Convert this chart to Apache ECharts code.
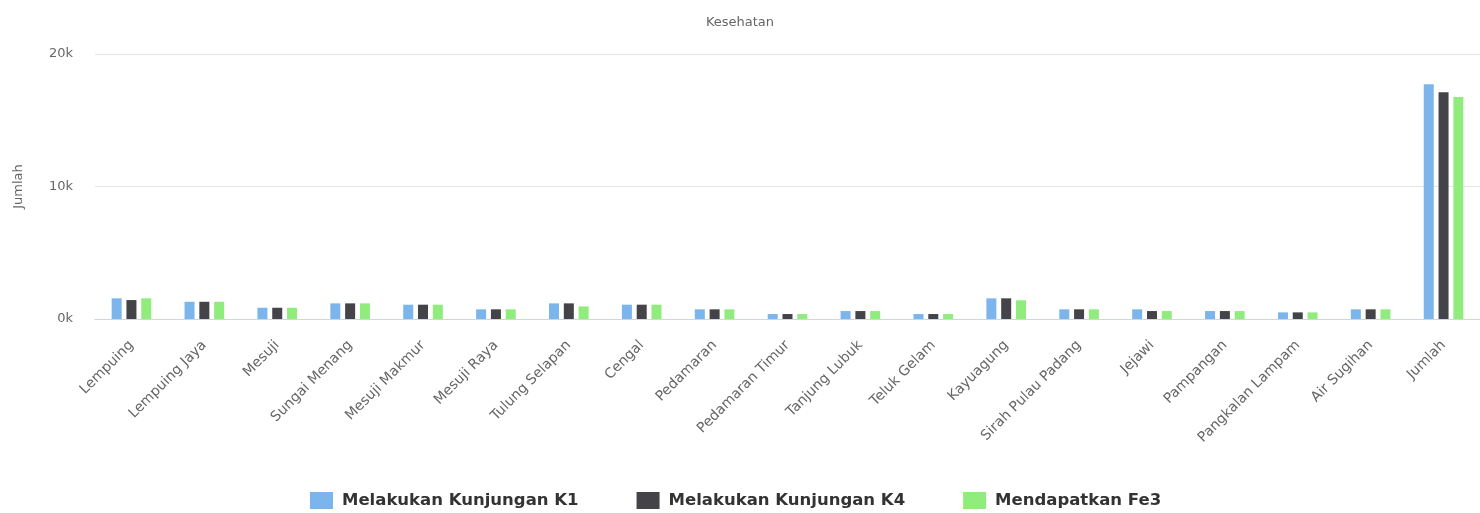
<!DOCTYPE html>
<html style="height: 100%">
<head>
    <meta charset="utf-8">
</head>
<body style="height: 100%; margin: 0">
    <div id="container" style="width: 1480px; height: 513px"></div>

    <script type="text/javascript" src="https://cdn.jsdelivr.net/npm/echarts@6/dist/echarts.min.js"></script>
    <script type="text/javascript">
        var kecamatan = ['Lempuing', 'Lempuing Jaya', 'Mesuji', 'Sungai Menang', 'Mesuji Makmur', 'Mesuji Raya',
            'Tulung Selapan', 'Cengal', 'Pedamaran', 'Pedamaran Timur', 'Tanjung Lubuk', 'Teluk Gelam',
            'Kayuagung', 'Sirah Pulau Padang', 'Jejawi', 'Pampangan', 'Pangkalan Lampam', 'Air Sugihan', 'Jumlah'];
        var kunjunganK1 = [1560, 1300, 850, 1180, 1080, 730, 1180, 1080, 730, 375, 600, 375, 1560, 730, 730, 600, 500, 730, 17710];
        var kunjunganK4 = [1430, 1300, 850, 1180, 1080, 730, 1180, 1080, 730, 375, 600, 375, 1560, 730, 600, 600, 500, 730, 17110];
        var fe3 = [1560, 1300, 850, 1180, 1080, 730, 950, 1080, 730, 375, 600, 375, 1410, 730, 600, 600, 500, 730, 16750];

        var dom = document.getElementById("container");
        var myChart = echarts.init(dom);
        var font = 'DejaVu Sans';

        function bar(name, data, color) {
            return {
                name: name,
                type: 'bar',
                data: data,
                barWidth: 10,
                barGap: '48%',
                itemStyle: { color: color }
            };
        }

        var option = {
            animation: false,
            title: {
                text: 'Kesehatan',
                left: 'center',
                top: 11,
                textStyle: { color: '#666', fontSize: 13, fontWeight: 'normal', fontFamily: font }
            },
            legend: {
                left: 305,
                top: 487,
                itemWidth: 23,
                itemHeight: 17,
                itemGap: 58,
                icon: 'rect',
                textStyle: { color: '#333', fontSize: 16.5, fontWeight: 'bold', fontFamily: font, padding: [0, 0, 0, 4] }
            },
            grid: { left: 95, right: 0, top: 54, bottom: 194, containLabel: false },
            xAxis: {
                type: 'category',
                data: kecamatan,
                axisLine: { lineStyle: { color: '#ccd6eb' } },
                axisTick: { length: 10, lineStyle: { color: '#ccd6eb' } },
                axisLabel: { rotate: 45, interval: 0, margin: 24, color: '#666', fontSize: 14, fontFamily: font }
            },
            yAxis: {
                type: 'value',
                min: 0,
                max: 20000,
                interval: 10000,
                name: 'Jumlah',
                nameLocation: 'middle',
                nameGap: 70,
                nameTextStyle: { color: '#666', fontSize: 13, fontFamily: font },
                axisLabel: {
                    margin: 22, color: '#666', fontSize: 13, fontFamily: font,
                    formatter: function (v) { return (v / 1000) + 'k'; }
                },
                splitLine: { lineStyle: { color: '#e6e6e6' } }
            },
            series: [
                bar('Melakukan Kunjungan K1', kunjunganK1, '#7cb5ec'),
                bar('Melakukan Kunjungan K4', kunjunganK4, '#434348'),
                bar('Mendapatkan Fe3', fe3, '#90ed7d')
            ]
        };
        myChart.setOption(option);
    </script>
</body>
</html>
